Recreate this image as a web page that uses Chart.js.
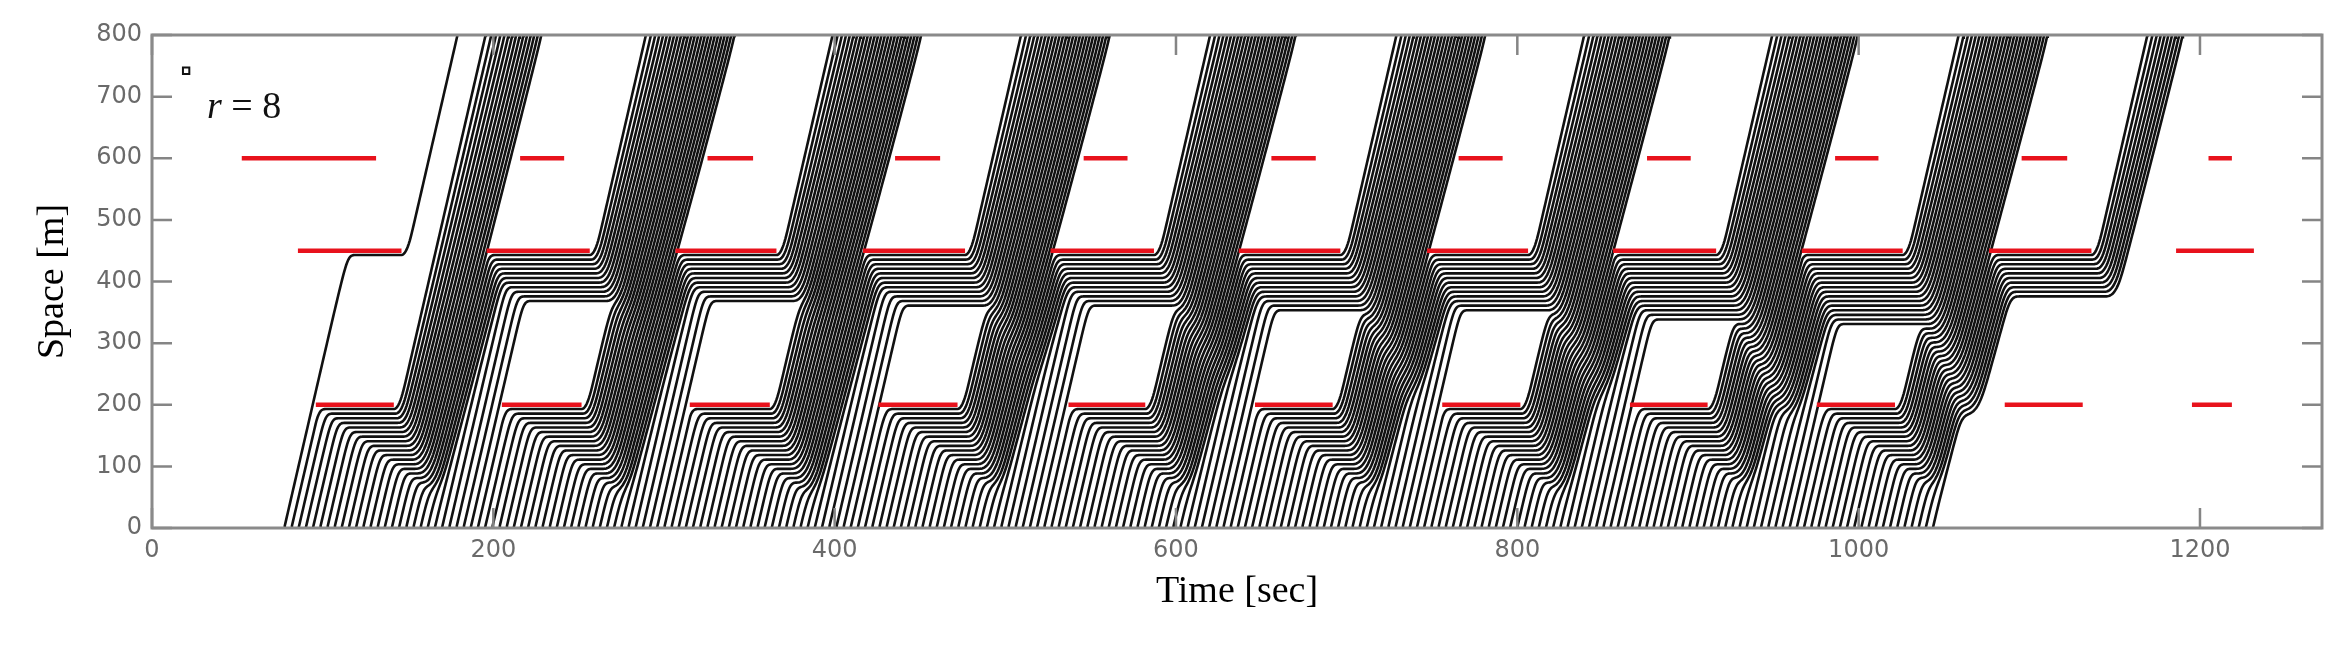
<!DOCTYPE html>
<html>
<head>
<meta charset="utf-8">
<title>Space-time diagram, r = 8</title>
<script src="https://cdn.jsdelivr.net/npm/chart.js@4.4.1/dist/chart.umd.min.js"></script>
<style>
  html, body { margin: 0; padding: 0; background: #fff; }
  #wrap { width: 2350px; height: 645px; }
</style>
</head>
<body>
<div id="wrap"><canvas id="chart" width="2350" height="645"></canvas></div>
<script>
// ---- values ----
const xTicks = [0, 200, 400, 600, 800, 1000, 1200];
const yTicks = [0, 100, 200, 300, 400, 500, 600, 700, 800];

// signal stop lines [m] and their red phases [sec]
const stopLines = [200, 450, 600];
const red200 = [[96, 141.7], [205, 251.7], [315.1, 362], [425.7, 472], [537, 582], [646.3, 691.8],
                [756, 801.8], [866, 911.5], [975.5, 1021.3], [1085.6, 1131.3], [1195.3, 1218.7]];
const red450 = [[85.5, 146.2], [196.1, 256.5], [306.7, 365.9], [416.6, 476.4], [526.5, 587.1], [636.8, 696.3],
                [747.1, 806.3], [856.1, 916.5], [966.7, 1025.8], [1076.4, 1136.4], [1186, 1231.6]];
const red600 = [[52.6, 131.3], [215.7, 241.5], [325.5, 352.2], [435.4, 461.8], [545.9, 571.6], [655.9, 681.9],
                [765.6, 791.4], [876, 901.6], [986.2, 1011.6], [1095.5, 1122.2], [1205, 1218.7]];

// vehicles entering the road at x = 0
const entryFirst = 77.5;     // sec
const entryLast = 1044.7;    // sec
const entryHeadway = 4.2;    // sec between entries

// marker square in the upper-left corner
const markerPoint = [{ x: 20, y: 742 }];

// car-following (IDM) settings, fitted by eye to the trajectories
const vFree = 12.0;       // m/s, slope of free-flow lines
const carLen = 5.5;       // m
const jamGap = 2.0;       // m  -> 7.5 m spacing in the queues
const timeGap = 1.0;      // s
const accMax = 2.0;       // m/s^2
const decComf = 2.5;      // m/s^2
const decMax = 6.0;       // m/s^2, can-stop check at red onset
const accExp = 10;
const stopSetback = 5;    // queues stand ~7 m before the line

function redAt(phases, t) {
  return phases.some(p => t >= p[0] && t < p[1]);
}

function idmAccel(v, gap, dv) {
  const sStar = jamGap + Math.max(0, v * timeGap + v * dv / (2 * Math.sqrt(accMax * decComf)));
  return accMax * (1 - Math.pow(v / vFree, accExp) - Math.pow(sStar / Math.max(gap, 0.05), 2));
}

function buildTrajectories() {
  const dt = 0.2;
  const reds = [red200, red450, red600];
  const entries = [];
  for (let k = 0; entryFirst + k * entryHeadway <= entryLast + 0.5; k++) {
    entries.push(entryFirst + k * entryHeadway);
  }
  const tracks = entries.map(() => []);
  let cars = [];
  let nextIn = 0;

  for (let n = 0; ; n++) {
    const t = 70 + n * dt;
    if (t > 1290) break;

    // new arrivals
    while (nextIn < entries.length && entries[nextIn] <= t) {
      const lead = cars[cars.length - 1];
      const x = vFree * (t - entries[nextIn]);
      let v = vFree;
      if (lead && lead.x - carLen - x < 30) v = Math.min(v, lead.v);
      cars.push({ id: nextIn, x: x, v: v });
      tracks[nextIn].push({ x: entries[nextIn], y: 0 });
      nextIn++;
    }

    // accelerations
    const acc = cars.map((c, i) => {
      let a = accMax * (1 - Math.pow(c.v / vFree, accExp));
      const lead = i > 0 ? cars[i - 1] : null;
      if (lead) a = Math.min(a, idmAccel(c.v, lead.x - carLen - c.x, c.v - lead.v));
      for (let k = 0; k < stopLines.length; k++) {
        const stopAt = stopLines[k] - stopSetback;
        if (c.x < stopAt + 0.5) {
          const room = stopAt - jamGap - c.x;
          if (redAt(reds[k], t) && c.v * c.v / (2 * decMax) <= room + 1) {
            a = Math.min(a, idmAccel(c.v, stopAt - c.x, c.v));
          }
          break;
        }
      }
      return a;
    });

    // move
    cars.forEach((c, i) => {
      const a = acc[i];
      let v = c.v + a * dt;
      if (v < 0) {
        c.x += a < 0 ? -0.5 * c.v * c.v / a : 0;
        v = 0;
      } else {
        c.x += c.v * dt + 0.5 * a * dt * dt;
      }
      c.v = v;
      if (n % 3 === 2 || c.x > 800) tracks[c.id].push({ x: t + dt, y: c.x });
    });
    cars = cars.filter(c => c.x <= 800);
  }
  return tracks;
}

const trajectories = buildTrajectories();

// ---- datasets ----
const redSets = [];
[[200, red200], [450, red450], [600, red600]].forEach(([level, phases]) => {
  phases.forEach(p => {
    redSets.push({
      data: [{ x: p[0], y: level }, { x: p[1], y: level }],
      borderColor: '#e8121c', borderWidth: 4.5, pointRadius: 0, borderCapStyle: 'butt'
    });
  });
});

const markerSet = {
  data: markerPoint, showLine: false,
  pointStyle: 'rect', pointRadius: 4.5, pointBorderWidth: 2,
  pointBackgroundColor: '#fff', pointBorderColor: '#111'
};

const carSets = trajectories.map(tr => ({
  data: tr, borderColor: '#111', borderWidth: 2.6, pointRadius: 0, clip: 0
}));

// frame with inward ticks on all four sides + the "r = 8" label
const framePlugin = {
  id: 'frame',
  afterDatasetsDraw(chart) {
    const { ctx, chartArea: a, scales: { x, y } } = chart;
    const tick = 20;
    ctx.save();
    ctx.strokeStyle = '#858585';
    ctx.lineWidth = 2.5;
    ctx.beginPath();
    xTicks.forEach(v => {
      const px = x.getPixelForValue(v);
      ctx.moveTo(px, a.bottom); ctx.lineTo(px, a.bottom - tick);
      ctx.moveTo(px, a.top); ctx.lineTo(px, a.top + tick);
    });
    yTicks.forEach(v => {
      const py = y.getPixelForValue(v);
      ctx.moveTo(a.left, py); ctx.lineTo(a.left + tick, py);
      ctx.moveTo(a.right, py); ctx.lineTo(a.right - tick, py);
    });
    ctx.stroke();
    ctx.lineWidth = 3;
    ctx.strokeStyle = '#8a8a8a';
    ctx.strokeRect(a.left, a.top, a.right - a.left, a.bottom - a.top);

    // parameter label
    const lx = x.getPixelForValue(32.2);
    const ly = y.getPixelForValue(665.6);
    ctx.fillStyle = '#111';
    ctx.textBaseline = 'alphabetic';
    ctx.font = 'italic 38px "Liberation Serif", "Times New Roman", serif';
    ctx.fillText('r', lx, ly);
    const w = ctx.measureText('r').width;
    ctx.font = '38px "Liberation Serif", "Times New Roman", serif';
    ctx.fillText(' = 8', lx + w, ly);
    ctx.restore();
  }
};

const tickFont = { family: '"DejaVu Sans", sans-serif', size: 24 };
const titleFont = { family: '"Liberation Serif", "Times New Roman", serif', size: 38 };

new Chart(document.getElementById('chart'), {
  type: 'line',
  data: { datasets: [...redSets, markerSet, ...carSets] },
  plugins: [framePlugin],
  options: {
    responsive: false,
    devicePixelRatio: 1,
    animation: false,
    events: [],
    parsing: false,
    normalized: true,
    layout: { padding: { top: 35, right: 28, left: 0, bottom: 0 } },
    plugins: { legend: { display: false }, tooltip: { enabled: false } },
    elements: { line: { tension: 0 } },
    scales: {
      x: {
        type: 'linear', min: 0, max: 1271.5,
        grid: { display: false, drawTicks: false },
        border: { display: false },
        afterBuildTicks: s => { s.ticks = xTicks.map(v => ({ value: v })); },
        afterFit: s => { s.height = 117; },
        ticks: { font: tickFont, color: '#6a6a6a', padding: 8, maxRotation: 0, autoSkip: false,
                 callback: v => String(v) },
        title: { display: true, text: 'Time [sec]', font: titleFont, color: '#000', padding: { bottom: 30 } }
      },
      y: {
        type: 'linear', min: 0, max: 800,
        grid: { display: false, drawTicks: false },
        border: { display: false },
        afterBuildTicks: s => { s.ticks = yTicks.map(v => ({ value: v })); },
        afterFit: s => { s.width = 152; },
        ticks: { font: tickFont, color: '#6a6a6a', padding: 10, autoSkip: false,
                 callback: v => String(v) },
        title: { display: true, text: 'Space [m]', font: titleFont, color: '#000', padding: { top: 30 } }
      }
    }
  }
});
</script>
</body>
</html>
